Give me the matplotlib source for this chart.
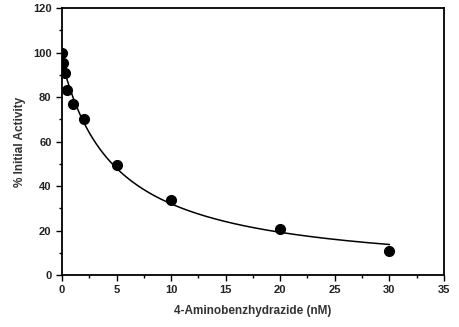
import numpy as np
import matplotlib
matplotlib.use("Agg")
import matplotlib.pyplot as plt
from matplotlib.ticker import MultipleLocator

conc = [0, 0.1, 0.25, 0.5, 1, 2, 5, 10, 20, 30]
activity = [100, 95.5, 91, 83, 76.8, 70, 49.5, 33.5, 20.6, 10.8]
fit_top = 96.0
fit_ic50 = 5.0
x_ticks = [0, 5, 10, 15, 20, 25, 30, 35]
y_ticks = [0, 20, 40, 60, 80, 100, 120]

plt.rcParams['font.family'] = ['Liberation Sans', 'DejaVu Sans']
fig = plt.figure(figsize=(4.59, 3.27), dpi=100)
ax = fig.add_axes([0.135, 0.159, 0.832, 0.8165])

xf = np.linspace(0.25, 30, 300)
ax.plot(xf, fit_top / (1 + xf / fit_ic50), color='black', lw=1.1)
ax.plot(conc, activity, 'o', color='black', markersize=7)

ax.set_xlim(0, 35)
ax.set_ylim(0, 120)
ax.set_xticks(x_ticks)
ax.set_yticks(y_ticks)
ax.xaxis.set_minor_locator(MultipleLocator(2.5))
ax.yaxis.set_minor_locator(MultipleLocator(10))
ax.tick_params(which='major', direction='out', length=4, width=1, labelsize=8, pad=3.5)
ax.tick_params(which='minor', direction='out', length=2.5, width=1)
for lab in ax.get_xticklabels() + ax.get_yticklabels():
    lab.set_fontweight('bold')
    lab.set_color('#222222')
for s in ax.spines.values():
    s.set_linewidth(1.3)
ax.set_xlabel('4-Aminobenzhydrazide (nM)', fontsize=8.5, fontweight='bold', color='#333333', labelpad=7)
ax.set_ylabel('% Initial Activity', fontsize=8.5, fontweight='bold', color='#333333', labelpad=5)

fig.savefig('out.png', dpi=100)
